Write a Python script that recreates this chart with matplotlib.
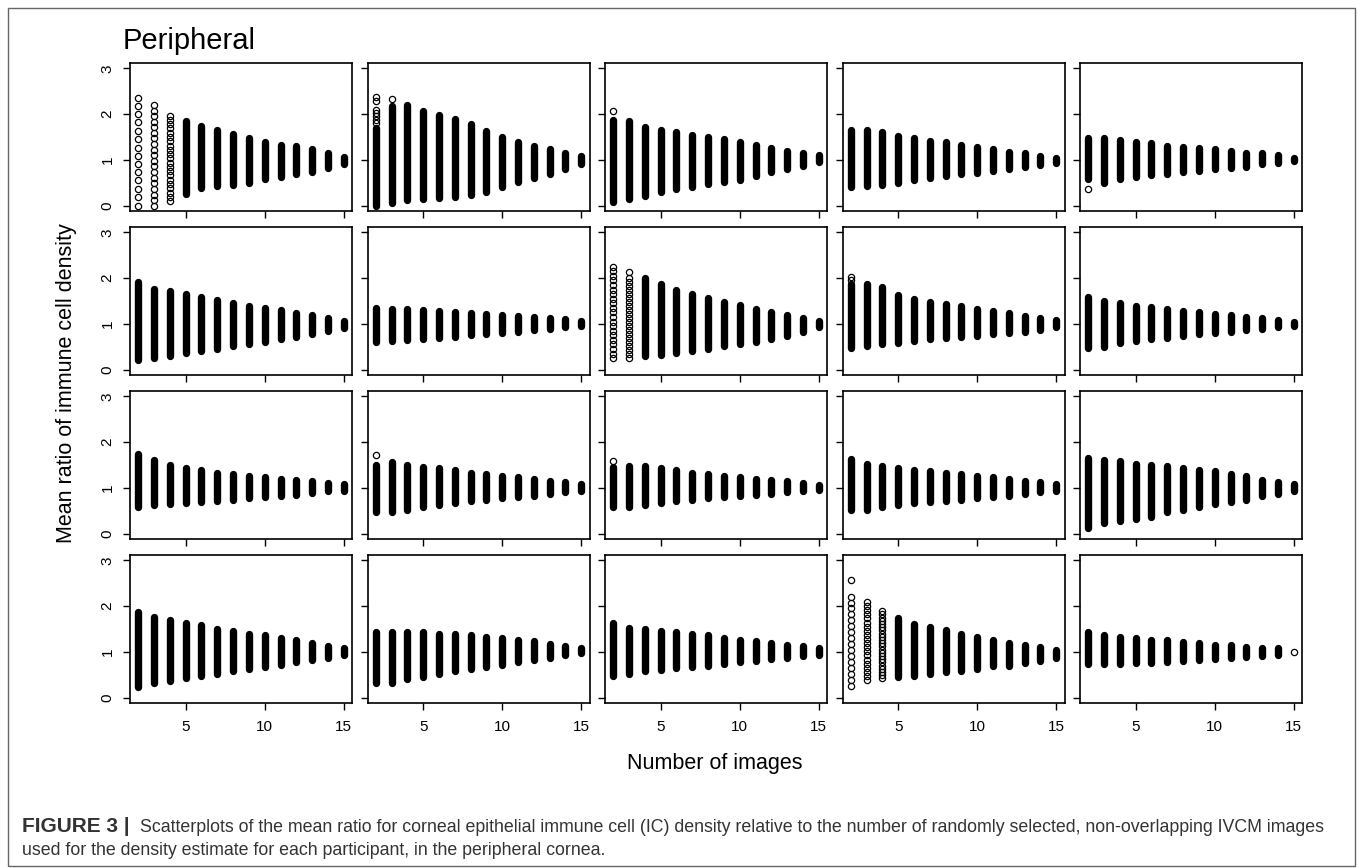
import numpy as np
import matplotlib.pyplot as plt
from matplotlib.patches import Rectangle

nan = np.nan
plt.rcParams['font.family'] = ['Liberation Sans', 'DejaVu Sans']

n_images = np.arange(2, 16)

# upper and lower limits of the packed points per participant (x = 2..15 images)
# nan = column drawn only from the single circles listed further down
hi_01 = [nan, nan, nan, 1.86, 1.73, 1.65, 1.57, 1.47, 1.39, 1.33, 1.30, 1.23, 1.14, 1.07]
lo_01 = [nan, nan, nan, 0.26, 0.39, 0.43, 0.44, 0.50, 0.57, 0.62, 0.68, 0.74, 0.82, 0.90]
hi_02 = [1.70, 2.17, 2.20, 2.07, 1.99, 1.90, 1.79, 1.64, 1.51, 1.39, 1.30, 1.23, 1.15, 1.08]
lo_02 = [0.00, 0.05, 0.12, 0.15, 0.16, 0.19, 0.23, 0.30, 0.40, 0.52, 0.60, 0.70, 0.81, 0.90]
hi_03 = [1.88, 1.85, 1.72, 1.66, 1.60, 1.55, 1.51, 1.46, 1.40, 1.33, 1.27, 1.20, 1.16, 1.10]
lo_03 = [0.08, 0.15, 0.20, 0.30, 0.36, 0.41, 0.47, 0.52, 0.56, 0.65, 0.73, 0.80, 0.86, 0.95]
hi_04 = [1.65, 1.65, 1.62, 1.52, 1.47, 1.42, 1.38, 1.33, 1.28, 1.23, 1.18, 1.14, 1.08, 1.04]
lo_04 = [0.40, 0.42, 0.45, 0.50, 0.56, 0.60, 0.64, 0.68, 0.72, 0.76, 0.80, 0.84, 0.88, 0.93]
hi_05 = [1.48, 1.47, 1.44, 1.39, 1.36, 1.31, 1.28, 1.25, 1.23, 1.19, 1.16, 1.14, 1.10, 1.05]
lo_05 = [0.58, 0.50, 0.57, 0.62, 0.66, 0.69, 0.74, 0.76, 0.79, 0.82, 0.84, 0.90, 0.92, 0.97]

hi_06 = [1.92, 1.77, 1.72, 1.66, 1.58, 1.52, 1.46, 1.40, 1.35, 1.30, 1.24, 1.19, 1.13, 1.06]
lo_06 = [0.20, 0.26, 0.30, 0.36, 0.41, 0.46, 0.51, 0.56, 0.61, 0.66, 0.72, 0.78, 0.85, 0.91]
hi_07 = [1.35, 1.33, 1.32, 1.30, 1.28, 1.26, 1.24, 1.21, 1.19, 1.17, 1.15, 1.12, 1.10, 1.07]
lo_07 = [0.60, 0.62, 0.64, 0.67, 0.70, 0.72, 0.75, 0.78, 0.80, 0.83, 0.86, 0.89, 0.92, 0.96]
hi_08 = [nan, nan, 2.00, 1.88, 1.74, 1.65, 1.56, 1.48, 1.41, 1.32, 1.27, 1.19, 1.12, 1.06]
lo_08 = [nan, nan, 0.30, 0.31, 0.37, 0.41, 0.46, 0.52, 0.55, 0.60, 0.66, 0.73, 0.82, 0.92]
hi_09 = [1.88, 1.88, 1.80, 1.63, 1.54, 1.48, 1.43, 1.38, 1.33, 1.28, 1.23, 1.18, 1.13, 1.08]
lo_09 = [0.47, 0.52, 0.56, 0.57, 0.62, 0.66, 0.69, 0.71, 0.74, 0.77, 0.80, 0.82, 0.87, 0.92]
hi_10 = [1.58, 1.50, 1.45, 1.40, 1.36, 1.32, 1.28, 1.25, 1.22, 1.19, 1.15, 1.12, 1.08, 1.04]
lo_10 = [0.47, 0.50, 0.57, 0.62, 0.66, 0.70, 0.74, 0.77, 0.80, 0.83, 0.86, 0.89, 0.93, 0.96]

hi_11 = [1.73, 1.60, 1.50, 1.43, 1.38, 1.33, 1.30, 1.26, 1.23, 1.20, 1.18, 1.15, 1.11, 1.08]
lo_11 = [0.57, 0.62, 0.64, 0.67, 0.70, 0.72, 0.74, 0.77, 0.80, 0.82, 0.85, 0.88, 0.92, 0.94]
hi_12 = [1.50, 1.56, 1.50, 1.46, 1.43, 1.38, 1.33, 1.30, 1.26, 1.23, 1.20, 1.16, 1.13, 1.08]
lo_12 = [0.47, 0.47, 0.52, 0.57, 0.62, 0.67, 0.72, 0.74, 0.77, 0.80, 0.82, 0.87, 0.90, 0.94]
hi_13 = [1.45, 1.48, 1.48, 1.43, 1.38, 1.33, 1.30, 1.26, 1.23, 1.20, 1.18, 1.15, 1.11, 1.06]
lo_13 = [0.57, 0.57, 0.62, 0.67, 0.72, 0.74, 0.77, 0.80, 0.82, 0.84, 0.87, 0.90, 0.92, 0.95]
hi_14 = [1.63, 1.53, 1.48, 1.43, 1.38, 1.36, 1.33, 1.30, 1.26, 1.23, 1.20, 1.16, 1.13, 1.08]
lo_14 = [0.52, 0.52, 0.57, 0.62, 0.67, 0.70, 0.72, 0.74, 0.77, 0.80, 0.82, 0.87, 0.90, 0.94]
hi_15 = [1.66, 1.60, 1.58, 1.53, 1.50, 1.48, 1.43, 1.40, 1.36, 1.30, 1.26, 1.18, 1.13, 1.08]
lo_15 = [0.12, 0.22, 0.27, 0.32, 0.37, 0.47, 0.52, 0.57, 0.64, 0.70, 0.74, 0.82, 0.87, 0.92]

hi_16 = [1.88, 1.76, 1.70, 1.63, 1.58, 1.50, 1.46, 1.40, 1.36, 1.30, 1.26, 1.20, 1.13, 1.08]
lo_16 = [0.24, 0.32, 0.37, 0.42, 0.47, 0.52, 0.57, 0.62, 0.67, 0.72, 0.77, 0.82, 0.87, 0.92]
hi_17 = [1.43, 1.43, 1.43, 1.43, 1.40, 1.38, 1.36, 1.33, 1.30, 1.26, 1.23, 1.18, 1.13, 1.08]
lo_17 = [0.32, 0.32, 0.40, 0.44, 0.52, 0.57, 0.62, 0.67, 0.72, 0.77, 0.82, 0.87, 0.92, 0.97]
hi_18 = [1.63, 1.53, 1.50, 1.46, 1.43, 1.38, 1.36, 1.30, 1.26, 1.23, 1.20, 1.16, 1.13, 1.08]
lo_18 = [0.47, 0.52, 0.57, 0.60, 0.64, 0.67, 0.70, 0.74, 0.77, 0.80, 0.84, 0.87, 0.90, 0.94]
hi_19 = [nan, nan, nan, 1.74, 1.62, 1.55, 1.48, 1.40, 1.33, 1.26, 1.20, 1.15, 1.11, 1.04]
lo_19 = [nan, nan, nan, 0.44, 0.47, 0.51, 0.55, 0.58, 0.63, 0.68, 0.70, 0.75, 0.80, 0.87]
hi_20 = [1.43, 1.37, 1.33, 1.30, 1.27, 1.25, 1.22, 1.19, 1.16, 1.14, 1.11, 1.09, 1.08, nan]
lo_20 = [0.74, 0.73, 0.74, 0.76, 0.76, 0.78, 0.80, 0.82, 0.85, 0.87, 0.89, 0.91, 0.94, nan]

# separate circles: (participant, number of images, ratios)
p01_n2 = [0.0, 0.18, 0.36, 0.55, 0.73, 0.91, 1.09, 1.27, 1.46, 1.64, 1.82, 2.0, 2.18, 2.36]
p01_n3 = [0.0, 0.12, 0.24, 0.37, 0.49, 0.61, 0.73, 0.86, 0.98, 1.1, 1.22, 1.34, 1.47,
          1.59, 1.71, 1.83, 1.96, 2.08, 2.2]
p01_n4 = [0.1, 0.19, 0.28, 0.38, 0.47, 0.56, 0.66, 0.75, 0.84, 0.94, 1.03, 1.13, 1.22,
          1.31, 1.41, 1.5, 1.59, 1.69, 1.78, 1.88, 1.97]
p02_n2 = [1.8, 1.87, 1.95, 2.03, 2.1, 2.29, 2.37]
p02_n3 = [2.33]
p03_n2 = [2.08]
p05_n2 = [0.36]
p08_n2 = [0.25, 0.35, 0.45, 0.55, 0.65, 0.75, 0.85, 0.95, 1.05, 1.15, 1.25, 1.35, 1.45,
          1.55, 1.65, 1.75, 1.85, 1.95, 2.05, 2.15, 2.25]
p08_n3 = [0.25, 0.34, 0.43, 0.51, 0.6, 0.69, 0.78, 0.86, 0.95, 1.04, 1.13, 1.21, 1.3,
          1.39, 1.48, 1.56, 1.65, 1.74, 1.83, 1.91, 2.0, 2.13]
p09_n2 = [1.95, 2.02]
p12_n2 = [1.72]
p13_n2 = [1.58]
p19_n2 = [0.26, 0.39, 0.52, 0.65, 0.78, 0.91, 1.04, 1.17, 1.3, 1.43, 1.56, 1.69, 1.82,
          1.95, 2.08, 2.21, 2.57]
p19_n3 = [0.38, 0.47, 0.56, 0.65, 0.74, 0.83, 0.92, 1.01, 1.1, 1.19, 1.28, 1.37, 1.46,
          1.55, 1.64, 1.73, 1.82, 1.91, 2.0, 2.1]
p19_n4 = [0.42, 0.49, 0.56, 0.63, 0.7, 0.77, 0.84, 0.91, 0.98, 1.05, 1.12, 1.19, 1.26,
          1.33, 1.4, 1.47, 1.54, 1.61, 1.68, 1.75, 1.82, 1.9]
p20_n15 = [1.0]

highs = [hi_01, hi_02, hi_03, hi_04, hi_05, hi_06, hi_07, hi_08, hi_09, hi_10,
         hi_11, hi_12, hi_13, hi_14, hi_15, hi_16, hi_17, hi_18, hi_19, hi_20]
lows = [lo_01, lo_02, lo_03, lo_04, lo_05, lo_06, lo_07, lo_08, lo_09, lo_10,
        lo_11, lo_12, lo_13, lo_14, lo_15, lo_16, lo_17, lo_18, lo_19, lo_20]
singles = [(1, 2, p01_n2), (1, 3, p01_n3), (1, 4, p01_n4), (2, 2, p02_n2), (2, 3, p02_n3),
           (3, 2, p03_n2), (5, 2, p05_n2), (8, 2, p08_n2), (8, 3, p08_n3), (9, 2, p09_n2),
           (12, 2, p12_n2), (13, 2, p13_n2), (19, 2, p19_n2), (19, 3, p19_n3),
           (19, 4, p19_n4), (20, 15, p20_n15)]

W, H = 1358, 868
fig = plt.figure(figsize=(W / 100, H / 100), dpi=100)

axes = []
for i in range(20):
    r, c = divmod(i, 5)
    left = 130 + 237.5 * c
    top = 63 + 164 * r
    ax = fig.add_axes([left / W, 1 - (top + 148) / H, 222 / W, 148 / H])
    axes.append(ax)

    hi = np.array(highs[i])
    lo = np.array(lows[i])
    ok = ~np.isnan(hi)
    ax.vlines(n_images[ok], lo[ok], hi[ok], colors='black', linewidth=5.3, capstyle='round')

    ax.set_xlim(1.48, 15.52)
    ax.set_ylim(-0.12, 3.12)
    ax.set_xticks([5, 10, 15])
    ax.set_yticks([0, 1, 2, 3])
    ax.tick_params(direction='out', length=5, width=1, labelsize=11, color='black')
    ax.tick_params(axis='x', pad=7)
    ax.tick_params(axis='y', pad=6)
    for s in ax.spines.values():
        s.set_linewidth(1.2)
    if c == 0:
        ax.set_yticklabels(['0', '1', '2', '3'], rotation=90, va='center')
    else:
        ax.set_yticklabels([])
    if r == 3:
        ax.set_xticklabels(['5', '10', '15'])
    else:
        ax.set_xticklabels([])

for pid, n, vals in singles:
    axes[pid - 1].plot([n] * len(vals), vals, 'o', mfc='none', mec='black', ms=4.5, mew=0.9)

fig.text(123 / W, 1 - 49 / H, 'Peripheral', fontsize=21, va='baseline', ha='left')
fig.text(715 / W, 1 - 764 / H, 'Number of images', fontsize=15.5, ha='center', va='center')
fig.text(67 / W, 1 - 383 / H, 'Mean ratio of immune cell density', fontsize=15.5,
         rotation=90, ha='center', va='center')

fig.text(22 / W, 1 - 832 / H, 'FIGURE 3 |', fontsize=15, fontweight='bold',
         color='#333333', va='baseline')
fig.text(140 / W, 1 - 832 / H,
         'Scatterplots of the mean ratio for corneal epithelial immune cell (IC) density '
         'relative to the number of randomly selected, non-overlapping IVCM images',
         fontsize=12.8, color='#333333', va='baseline')
fig.text(22 / W, 1 - 855 / H,
         'used for the density estimate for each participant, in the peripheral cornea.',
         fontsize=12.8, color='#333333', va='baseline')

fig.patches.append(Rectangle((8 / W, 2 / H), 1347 / W, 858 / H, transform=fig.transFigure,
                             fill=False, edgecolor='#666666', linewidth=1))

fig.savefig('out.png', dpi=100)
